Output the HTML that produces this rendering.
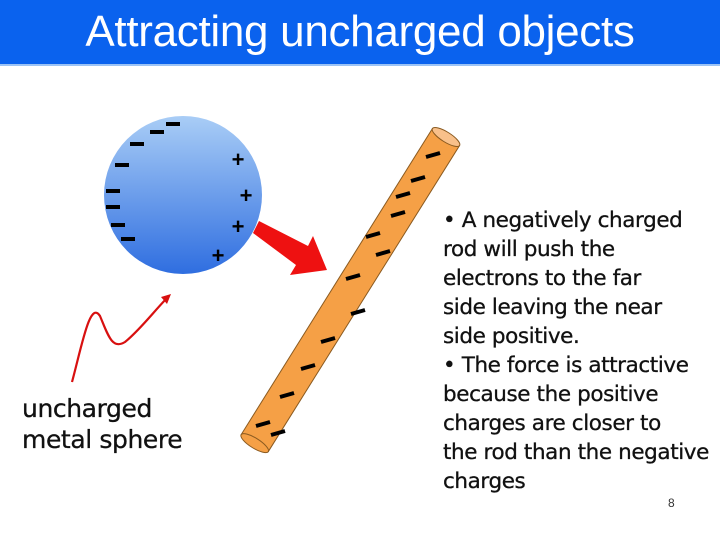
<!DOCTYPE html>
<html><head><meta charset="utf-8"><style>
body{margin:0;width:720px;height:539px;background:#fff;position:relative;overflow:hidden;font-family:"DejaVu Sans","Liberation Sans",sans-serif}
.bar{position:absolute;left:0;top:0;width:720px;height:64px;background:#0a62ee;border-bottom:2px solid #9cc3f5}
.title{position:absolute;left:0;width:720px;top:7px;text-align:center;color:#fff;font-family:"Liberation Sans",sans-serif;font-size:44px;letter-spacing:-0.3px}
.t{position:absolute;left:443px;top:206px;font-size:21.5px;line-height:29px;color:#111;letter-spacing:-0.4px;-webkit-text-stroke:0.3px #111}
.lab{position:absolute;left:22px;top:393px;font-size:25px;line-height:31px;color:#111;letter-spacing:-0.4px;-webkit-text-stroke:0.3px #111}
.n{position:absolute;left:668px;top:496px;font-size:12px;color:#333;font-family:"Liberation Sans",sans-serif}
</style></head><body>
<div class="bar"></div><div class="title">Attracting uncharged objects</div>
<svg width="720" height="539" style="position:absolute;left:0;top:0">
<defs><linearGradient id="g" x1="0" y1="0" x2="0" y2="1"><stop offset="0" stop-color="#a9cdf6"/><stop offset="1" stop-color="#2f6ee0"/></linearGradient></defs>
<circle cx="183" cy="195" r="79" fill="url(#g)"/>
<g stroke="#000" stroke-width="4" stroke-linecap="butt">
<line x1="166" y1="124" x2="180" y2="124"/><line x1="150" y1="132" x2="164" y2="132"/><line x1="130" y1="144" x2="144" y2="144"/><line x1="115" y1="165" x2="129" y2="165"/><line x1="106" y1="191" x2="120" y2="191"/><line x1="106" y1="207" x2="120" y2="207"/><line x1="111" y1="225" x2="125" y2="225"/><line x1="121" y1="239" x2="135" y2="239"/>
</g>
<g font-size="22" font-weight="bold" font-family="Liberation Sans" text-anchor="middle"><text x="238" y="167">+</text><text x="246" y="203">+</text><text x="238" y="234">+</text><text x="218" y="263">+</text></g>
<polygon points="253,233 259,221 308,246 313,236 327,270 290,275 296,265" fill="#ee1111"/>
<path d="M72,382 C82,345 90,300 100,316 C108,335 112,350 125,342 C140,330 155,310 168,297" fill="none" stroke="#d81010" stroke-width="2.2"/>
<polygon points="171,294 161,297 167,304" fill="#d81010"/>
<g transform="translate(446,137) rotate(122)">
<rect x="0" y="-16" width="361" height="32" fill="#f5a046" stroke="#8a5a20" stroke-width="1"/>
<ellipse cx="361" cy="0" rx="5" ry="16" fill="#f5a046" stroke="#8a5a20"/>
<ellipse cx="0" cy="0" rx="5" ry="16" fill="#f8c08a" stroke="#8a5a20"/>
</g>
<g stroke="#000" stroke-width="4">
<line x1="426" y1="157" x2="440" y2="153"/><line x1="411" y1="181" x2="425" y2="177"/><line x1="396" y1="197" x2="410" y2="193"/><line x1="391" y1="216" x2="405" y2="212"/><line x1="366" y1="237" x2="380" y2="233"/><line x1="376" y1="255" x2="390" y2="251"/><line x1="346" y1="279" x2="360" y2="275"/><line x1="351" y1="314" x2="365" y2="310"/><line x1="321" y1="342" x2="335" y2="338"/><line x1="301" y1="369" x2="315" y2="365"/><line x1="280" y1="397" x2="294" y2="393"/><line x1="256" y1="426" x2="270" y2="422"/><line x1="271" y1="435" x2="285" y2="431"/>
</g>
</svg>
<div class="lab">uncharged<br>metal sphere</div>
<div class="t">• A negatively charged<br>rod will push the<br>electrons to the far<br>side leaving the near<br>side positive.<br>• The force is attractive<br>because the positive<br>charges are closer to<br>the rod than the negative<br>charges</div>
<div class="n">8</div>
</body></html>
